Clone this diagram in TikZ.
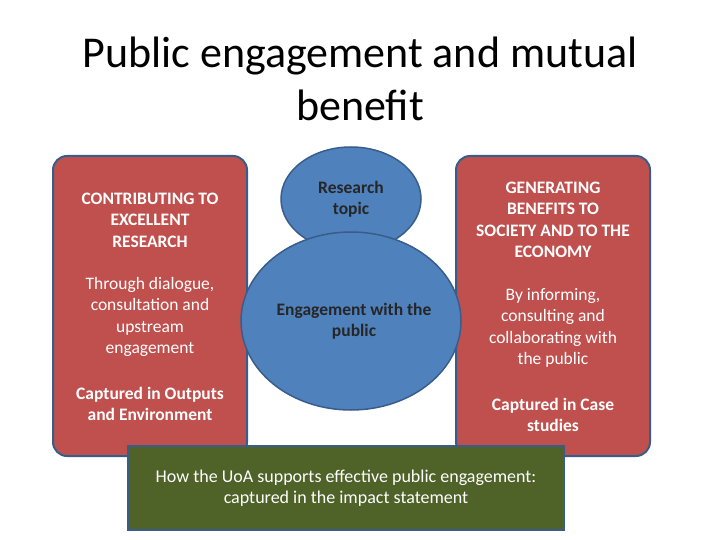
\documentclass[tikz,border=0pt]{standalone}
\usepackage{fontspec}
\setmainfont{Carlito}
\usetikzlibrary{shapes.geometric}
\definecolor{redf}{HTML}{C0504D}
\definecolor{bluef}{HTML}{4F81BD}
\definecolor{blueb}{HTML}{385D8A}
\definecolor{greenf}{HTML}{4F6228}
\begin{document}
\begin{tikzpicture}[x=1pt,y=-1pt,
  side/.style={draw=blueb,line width=2pt,fill=redf,rounded corners=14pt},
  ell/.style={draw=blueb,line width=1.5pt,fill=bluef,ellipse},
  wt/.style={text=white,font=\bfseries\fontsize{17.5}{21.5}\selectfont,align=center},
  dk/.style={text=black!85,font=\bfseries\fontsize{17.5}{21.5}\selectfont,align=center}]
\useasboundingbox[fill=white] (0,0) rectangle (720,540);
\node[font=\fontsize{44}{53}\selectfont,align=center] (title) at (360,79) {Public engagement and mutual\\benefit};
\path[side] (53,156) rectangle (247,456);
\path[side] (456,156) rectangle (650,456);
\node[ell,minimum width=140pt,minimum height=104pt] (small) at (351,199) {};
\node[ell,minimum width=220pt,minimum height=178pt] (big) at (351,321) {};
\node[dk] (rt) at (351,199) {Research\\topic};
\node[dk] (ep) at (354,321) {Engagement with the\\public};
\node[wt] (l1) at (150,220) {CONTRIBUTING TO\\EXCELLENT\\RESEARCH};
\node[wt,font=\fontsize{17.5}{21.5}\selectfont] (l2) at (150,317) {Through dialogue,\\consultation and\\upstream\\engagement};
\node[wt] (l3) at (150,404) {Captured in Outputs\\and Environment};
\node[wt] (r1) at (553,220) {GENERATING\\BENEFITS TO\\SOCIETY AND TO THE\\ECONOMY};
\node[wt,font=\fontsize{17.5}{21.5}\selectfont] (r2) at (553,328) {By informing,\\consulting and\\collaborating with\\the public};
\node[wt] (r3) at (553,415) {Captured in Case\\studies};
\node[draw=blueb,line width=2pt,fill=greenf,minimum width=436pt,minimum height=84pt,text=white,font=\fontsize{18}{21.5}\selectfont,align=center] (g) at (346,488) {How the UoA supports effective public engagement:\\captured in the impact statement};
\end{tikzpicture}
\end{document}
